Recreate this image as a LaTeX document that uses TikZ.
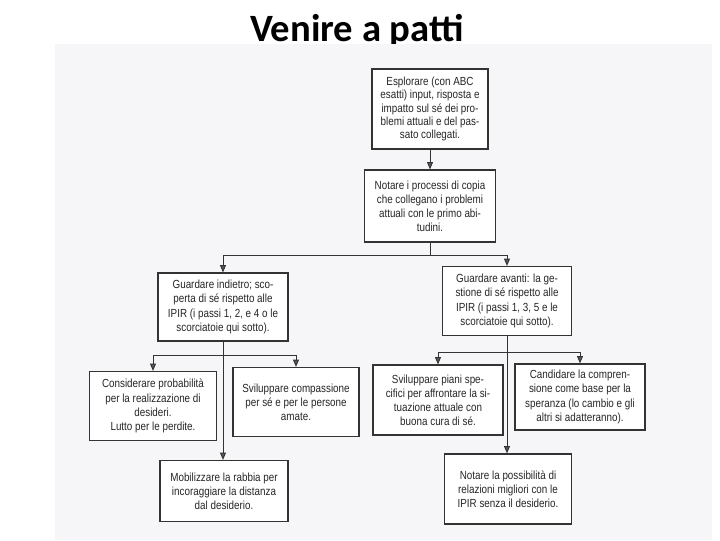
\documentclass[tikz,border=0pt]{standalone}
\usepackage{fontspec}
\setmainfont{Liberation Sans}
\newfontfamily\boxfont[FakeStretch=0.84]{Liberation Sans}
\newfontfamily\titlefont{Carlito}
\usetikzlibrary{arrows.meta,positioning}
\definecolor{scan}{HTML}{F6F6F8}
\definecolor{ink}{HTML}{262626}
\definecolor{linegray}{HTML}{333333}
\tikzset{
  box/.style={draw=linegray, line width=0.9pt, fill=white, text=ink, align=center,
    inner sep=2pt, font=\boxfont\fontsize{8.8}{10.6}\selectfont},
  arr/.style={draw=linegray, line width=0.7pt, -{Triangle[length=5.5pt,width=4.5pt,fill=black!65]}},
  ln/.style={draw=linegray, line width=0.7pt}
}
\begin{document}
\begin{tikzpicture}[x=0.75pt,y=-0.75pt]
\useasboundingbox (0,0) rectangle (720,540);
\fill[white] (0,0) rectangle (720,540);
\node[font=\titlefont\bfseries\fontsize{29}{31}\selectfont, anchor=base] (title) at (357,41) {Venire a patti};
\fill[scan] (55,44) rectangle (712,540);

\node[box, minimum width=116*0.75pt, minimum height=80*0.75pt,
  font=\boxfont\fontsize{8.8}{9.8}\selectfont] (b1) at (430,109)
  {Esplorare (con ABC\\ esatti) input, risposta e\\ impatto sul sé dei pro-\\ blemi attuali e del pas-\\ sato collegati.};
\node[box, minimum width=131*0.75pt, minimum height=72*0.75pt] (b2) at (430,206)
  {Notare i processi di copia\\ che collegano i problemi\\ attuali con le primo abi-\\ tudini.};
\node[box, minimum width=130*0.75pt, minimum height=68*0.75pt] (b3) at (223,307)
  {Guardare indietro; sco-\\ perta di sé rispetto alle\\ IPIR (i passi 1, 2, e 4 o le\\ scorciatoie qui sotto).};
\node[box, minimum width=129*0.75pt, minimum height=69*0.75pt] (b4) at (507,301)
  {Guardare avanti: la ge-\\ stione di sé rispetto alle\\ IPIR (i passi 1, 3, 5 e le\\ scorciatoie qui sotto).};
\node[box, minimum width=127*0.75pt, minimum height=69*0.75pt] (b5) at (153,406)
  {Considerare probabilità\\ per la realizzazione di\\ desideri.\\ Lutto per le perdite.};
\node[box, minimum width=126*0.75pt, minimum height=69*0.75pt] (b6) at (296,402)
  {Sviluppare compassione\\ per sé e per le persone\\ amate.};
\node[box, minimum width=130*0.75pt, minimum height=70*0.75pt] (b7) at (438,400)
  {Sviluppare piani spe-\\ cifici per affrontare la si-\\ tuazione attuale con\\ buona cura di sé.};
\node[box, minimum width=130*0.75pt, minimum height=66*0.75pt] (b8) at (580,397)
  {Candidare la compren-\\ sione come base per la\\ speranza (lo cambio e gli\\ altri si adatteranno).};
\node[box, minimum width=128*0.75pt, minimum height=61*0.75pt] (b9) at (224,491)
  {Mobilizzare la rabbia per\\ incoraggiare la distanza\\ dal desiderio.};
\node[box, minimum width=127*0.75pt, minimum height=70*0.75pt] (b10) at (508,489)
  {Notare la possibilità di\\ relazioni migliori con le\\ IPIR senza il desiderio.};

% connectors
\draw[arr] (b1.south) -- (b1.south |- b2.north);
\coordinate (j2) at ([yshift=-13*0.75pt]b2.south);
\draw[ln] (b2.south) -- (j2);
\draw[arr] (j2) -| (b3.north);
\draw[arr] (j2) -| (b4.north);

\coordinate (j3) at ([yshift=-14*0.75pt]b3.south);
\draw[arr] (b3.south) -- (b3.south |- b9.north);
\draw[arr] (j3) -| (b5.north);
\draw[arr] (j3) -| (b6.north);

\coordinate (j4) at ([yshift=-16*0.75pt]b4.south);
\draw[arr] (b4.south) -- (b4.south |- b10.north);
\draw[arr] (j4) -| (b7.north);
\draw[arr] (j4) -| (b8.north);
\end{tikzpicture}
\end{document}
